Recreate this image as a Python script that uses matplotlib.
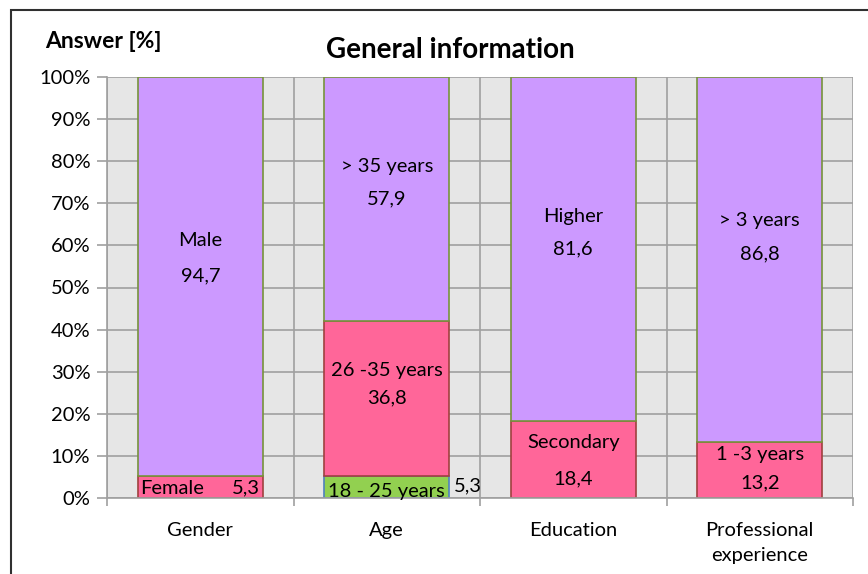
import matplotlib.pyplot as plt
from matplotlib.patches import Rectangle
from matplotlib.ticker import FuncFormatter, MultipleLocator

plt.rcParams['font.family'] = ['Lato', 'DejaVu Sans']

categories = ['Gender', 'Age', 'Education', 'Professional\nexperience']

# segments of each stacked bar, bottom to top
gender_labels = ['Female', 'Male']
gender_values = [5.3, 94.7]
age_labels = ['18 - 25 years', '26 -35 years', '> 35 years']
age_values = [5.3, 36.8, 57.9]
education_labels = ['Secondary', 'Higher']
education_values = [18.4, 81.6]
experience_labels = ['1 -3 years', '> 3 years']
experience_values = [13.2, 86.8]

purple = '#CC99FF'
pink = '#FF6699'
green = '#92D050'
purple_edge = '#77933C'
pink_edge = '#A0413F'
green_edge = '#4F81BD'

stacks = [
    (gender_labels, gender_values, [pink, purple], [pink_edge, purple_edge]),
    (age_labels, age_values, [green, pink, purple], [green_edge, pink_edge, purple_edge]),
    (education_labels, education_values, [pink, purple], [pink_edge, purple_edge]),
    (experience_labels, experience_values, [pink, purple], [pink_edge, purple_edge]),
]

# label offsets in points: (value dy, name dy) relative to segment middle
label_offsets = [
    [None, (0, 26)],
    [None, (0, 20), (0, 23)],
    [(-14, 12), (0, 23)],
    [(-9, 11), (4, 28)],
]

fs = 14.5

fig = plt.figure(figsize=(8.68, 5.74), dpi=100)
ax = fig.add_axes([107 / 868, 1 - 498 / 574, 746 / 868, 421 / 574])
ax.set_facecolor('#E6E6E6')
ax.set_axisbelow(True)

width = 0.67
for i, (labels, values, colors, edges) in enumerate(stacks):
    bottom = 0
    for j, (lab, val) in enumerate(zip(labels, values)):
        ax.bar(i, val, width, bottom=bottom, color=colors[j], edgecolor=edges[j], linewidth=1.2)
        mid = bottom + val / 2
        txt = f'{val:.1f}'.replace('.', ',')
        off = label_offsets[i][j]
        if lab == 'Female':
            ax.annotate(lab, (i - width / 2, mid), xytext=(2, -1), textcoords='offset points',
                        ha='left', va='center', fontsize=fs)
            ax.annotate(txt, (i + width / 2, mid), xytext=(-2, -1), textcoords='offset points',
                        ha='right', va='center', fontsize=fs)
        elif lab == '18 - 25 years':
            ax.annotate(lab, (i, mid), xytext=(0, -3), textcoords='offset points',
                        ha='center', va='center', fontsize=fs)
            ax.annotate(txt, (i + width / 2, mid), xytext=(3, 1), textcoords='offset points',
                        ha='left', va='center', fontsize=fs)
        else:
            ax.annotate(txt, (i, mid), xytext=(0, off[0]), textcoords='offset points',
                        ha='center', va='center', fontsize=fs)
            ax.annotate(lab, (i, mid), xytext=(0, off[1]), textcoords='offset points',
                        ha='center', va='center', fontsize=fs)
        bottom += val

ax.set_xlim(-0.5, len(categories) - 0.5)
ax.set_ylim(0, 100)
ax.yaxis.set_major_locator(MultipleLocator(10))
ax.yaxis.set_major_formatter(FuncFormatter(lambda v, p: f'{v:.0f}%'))
ax.set_xticks(range(len(categories)))
ax.set_xticklabels(categories, fontsize=fs, linespacing=1.6)
ax.set_xticks([k - 0.5 for k in range(len(categories) + 1)], minor=True)
ax.tick_params(axis='x', which='major', length=0, pad=17)
ax.tick_params(axis='x', which='minor', length=6, color='#A0A0A0', width=1.2)
ax.tick_params(axis='y', labelsize=fs, length=7, color='#A0A0A0', width=1.2, pad=5)

ax.grid(axis='y', color='#A0A0A0', linewidth=1.2)
ax.grid(axis='x', which='minor', color='#A0A0A0', linewidth=1.2)
for s in ['top', 'right']:
    ax.spines[s].set_visible(False)
for s in ['left', 'bottom']:
    ax.spines[s].set_color('#A0A0A0')
    ax.spines[s].set_linewidth(1.2)

fig.text(45 / 868, 1 - 42 / 574, 'Answer [%]', fontsize=16.5, fontweight='bold', ha='left', va='center')
fig.text(450 / 868, 1 - 50 / 574, 'General information', fontsize=20, fontweight='bold', ha='center', va='center')

fig.patches.append(Rectangle((11 / 868, -0.1), 1.1, 1.1 - 10 / 574, transform=fig.transFigure,
                             fill=False, edgecolor='#303030', linewidth=1.5))

fig.savefig('out.png', dpi=100)
